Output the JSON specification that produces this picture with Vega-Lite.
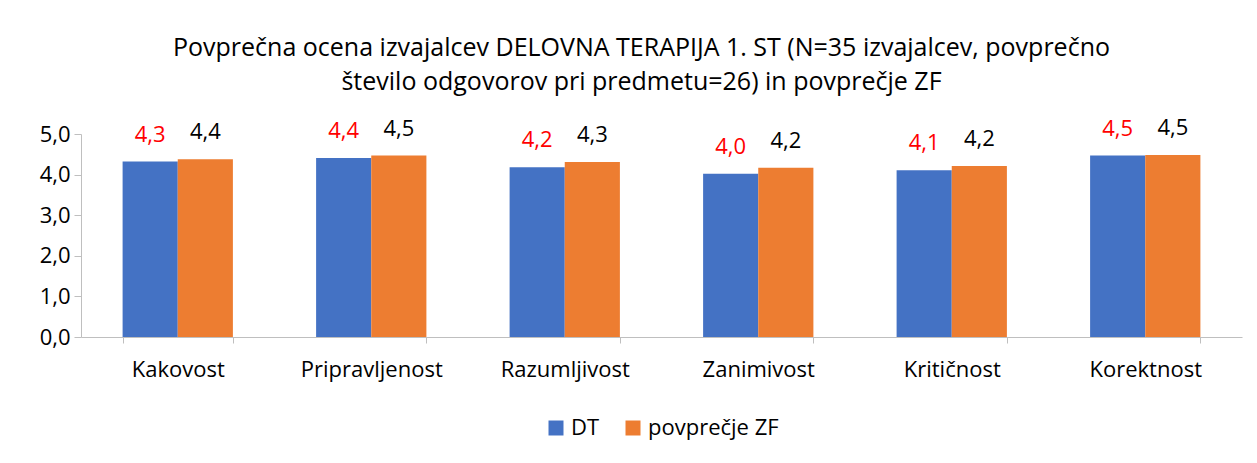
{
  "$schema": "https://vega.github.io/schema/vega-lite/v6.json",
  "width": 1161,
  "height": 203,
  "padding": {"left": 39, "top": 36, "right": 5, "bottom": 5},
  "background": "#ffffff",
  "config": {
    "font": "Open Sans",
    "view": {"stroke": null},
    "legend": {"layout": {"bottom": {"anchor": "middle"}}},
    "locale": {"number": {"decimal": ",", "thousands": ".", "grouping": [3], "currency": ["", " €"]}}
  },
  "title": {
    "text": ["Povprečna ocena izvajalcev DELOVNA TERAPIJA 1. ST (N=35 izvajalcev, povprečno", "število odgovorov pri predmetu=26) in povprečje ZF"],
    "fontSize": 25,
    "fontWeight": "normal",
    "font": "Open Sans",
    "color": "#000000",
    "lineHeight": 34,
    "anchor": "middle",
    "dx": -20,
    "offset": 22
  },
  "data": {
    "values": [
      {"kategorija": "Kakovost", "serija": "DT", "ocena": 4.32},
      {"kategorija": "Kakovost", "serija": "povprečje ZF", "ocena": 4.38},
      {"kategorija": "Pripravljenost", "serija": "DT", "ocena": 4.41},
      {"kategorija": "Pripravljenost", "serija": "povprečje ZF", "ocena": 4.47},
      {"kategorija": "Razumljivost", "serija": "DT", "ocena": 4.18},
      {"kategorija": "Razumljivost", "serija": "povprečje ZF", "ocena": 4.31},
      {"kategorija": "Zanimivost", "serija": "DT", "ocena": 4.02},
      {"kategorija": "Zanimivost", "serija": "povprečje ZF", "ocena": 4.17},
      {"kategorija": "Kritičnost", "serija": "DT", "ocena": 4.11},
      {"kategorija": "Kritičnost", "serija": "povprečje ZF", "ocena": 4.21},
      {"kategorija": "Korektnost", "serija": "DT", "ocena": 4.47},
      {"kategorija": "Korektnost", "serija": "povprečje ZF", "ocena": 4.48}
    ]
  },
  "encoding": {
    "x": {
      "field": "kategorija",
      "type": "nominal",
      "sort": null,
      "scale": {"paddingInner": 0.43, "paddingOuter": 0.215},
      "axis": {
        "title": null,
        "labelAngle": 0,
        "labelFontSize": 22,
        "labelColor": "#000000",
        "labelPadding": 16,
        "domainColor": "#bfbfbf",
        "tickColor": "#bfbfbf",
        "tickBand": "extent",
        "tickSize": 6
      }
    },
    "xOffset": {"field": "serija", "type": "nominal", "scale": {"paddingInner": 0, "paddingOuter": 0}},
    "y": {
      "field": "ocena",
      "type": "quantitative",
      "scale": {"domain": [0, 5], "nice": false},
      "axis": {
        "title": null,
        "values": [0, 1, 2, 3, 4, 5],
        "format": ".1f",
        "grid": false,
        "labelFontSize": 22,
        "labelColor": "#000000",
        "labelPadding": 4,
        "domainColor": "#bfbfbf",
        "tickColor": "#bfbfbf",
        "tickSize": 7
      }
    }
  },
  "layer": [
    {
      "mark": {"type": "bar"},
      "encoding": {
        "color": {
          "field": "serija",
          "type": "nominal",
          "scale": {"domain": ["DT", "povprečje ZF"], "range": ["#4472c4", "#ed7d31"]},
          "legend": {
            "title": null,
            "orient": "bottom",
            "direction": "horizontal",
            "symbolType": "square",
            "symbolSize": 225,
            "symbolStrokeWidth": 0,
            "labelFontSize": 22,
            "labelColor": "#000000",
            "columnPadding": 22,
            "offset": 37
          }
        }
      }
    },
    {
      "mark": {"type": "text", "baseline": "bottom", "dy": -15, "fontSize": 22},
      "encoding": {
        "text": {"field": "ocena", "type": "quantitative", "format": ".1f"},
        "color": {"condition": {"test": "datum.serija === 'DT'", "value": "#ff0000"}, "value": "#000000"}
      }
    }
  ]
}
